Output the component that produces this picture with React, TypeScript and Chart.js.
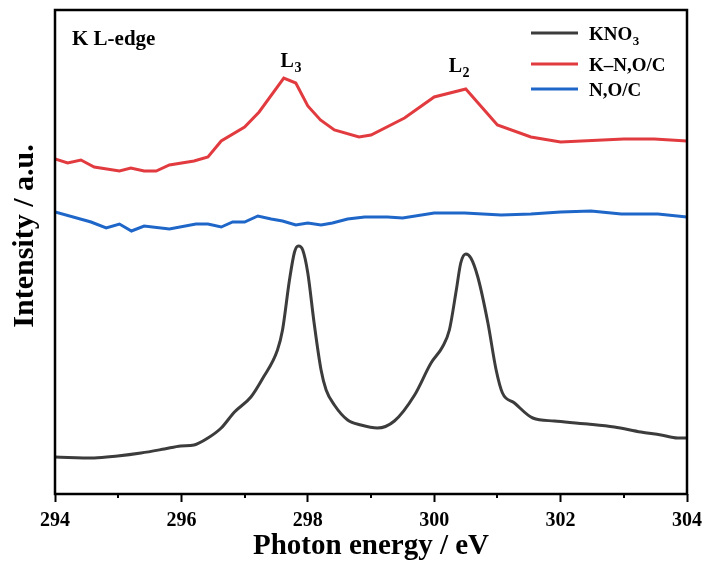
import React, { useEffect, useRef } from "react";
import { Chart, registerables } from "chart.js";

Chart.register(...registerables);

// ---- Data (photon energy in eV, intensity in arbitrary units, offset per series) ----
const kno3Energy = [
  294.0, 294.62, 294.99, 295.36, 295.73, 295.99, 296.2, 296.42, 296.63, 296.84,
  297.1, 297.29, 297.52, 297.6, 297.71, 297.79, 297.85, 297.92, 298.0, 298.1,
  298.21, 298.29, 298.42, 298.63, 298.84, 299.1, 299.37, 299.69, 299.95, 300.13,
  300.24, 300.35, 300.42, 300.5, 300.58, 300.69, 300.85, 300.98, 301.08, 301.27,
  301.56, 301.9, 302.43, 302.85, 303.27, 303.59, 303.85, 304.0,
];
const kno3Intensity = [
  0.37, 0.36, 0.38, 0.41, 0.45, 0.48, 0.49, 0.56, 0.66, 0.82,
  0.97, 1.16, 1.44, 1.64, 2.14, 2.42, 2.48, 2.44, 2.21, 1.71,
  1.24, 1.04, 0.89, 0.74, 0.69, 0.66, 0.73, 0.99, 1.31, 1.47,
  1.64, 2.04, 2.31, 2.4, 2.36, 2.17, 1.71, 1.24, 1.01, 0.91,
  0.76, 0.73, 0.7, 0.67, 0.62, 0.59, 0.56, 0.56,
];

const knocEnergy = [
  294.0, 294.2, 294.41, 294.62, 295.02, 295.2, 295.41, 295.6, 295.81, 296.2,
  296.42, 296.63, 297.0, 297.23, 297.62, 297.81, 298.0, 298.2, 298.42, 298.81,
  299.0, 299.53, 300.0, 300.5, 301.0, 301.53, 302.0, 303.0, 303.48, 304.0,
];
const knocIntensity = [
  3.35, 3.31, 3.34, 3.27, 3.23, 3.26, 3.23, 3.23, 3.29, 3.33,
  3.37, 3.53, 3.67, 3.82, 4.16, 4.11, 3.88, 3.74, 3.64, 3.57,
  3.59, 3.76, 3.97, 4.05, 3.69, 3.57, 3.52, 3.55, 3.55, 3.53,
];

const nocEnergy = [
  294.0, 294.57, 294.81, 295.02, 295.21, 295.41, 295.81, 296.23, 296.42, 296.63,
  296.81, 297.0, 297.21, 297.42, 297.6, 297.81, 298.0, 298.21, 298.39, 298.63,
  298.9, 299.26, 299.5, 300.0, 300.48, 301.06, 301.53, 302.0, 302.48, 302.96,
  303.54, 304.0,
];
const nocIntensity = [
  2.82, 2.72, 2.66, 2.7, 2.63, 2.68, 2.65, 2.7, 2.7, 2.67,
  2.72, 2.72, 2.78, 2.75, 2.73, 2.69, 2.71, 2.69, 2.71, 2.75,
  2.77, 2.77, 2.76, 2.81, 2.81, 2.79, 2.8, 2.82, 2.83, 2.8,
  2.8, 2.77,
];

const xMajorTicks = [294, 296, 298, 300, 302, 304];
const xMinorTicks = [295, 297, 299, 301, 303];
const seriesNames = ["KNO", "K–N,O/C", "N,O/C"];
const seriesSubscripts = ["3", "", ""];
const seriesColors = ["#3c3c3c", "#e23b3f", "#1f66c9"];

const peakNames = ["L", "L"];
const peakSubscripts = ["3", "2"];
const peakEnergy = [297.73, 300.39];
const peakLevel = [4.27, 4.22];

const panelLabel = "K L-edge";
const xTitle = "Photon energy / eV";
const yTitle = "Intensity / a.u.";

const FONT = "'Liberation Serif', 'Times New Roman', serif";

function toPoints(xs: number[], ys: number[]) {
  return xs.map((x, i) => ({ x, y: ys[i] }));
}

function drawSubText(
  ctx: CanvasRenderingContext2D,
  main: string,
  sub: string,
  x: number,
  y: number,
  size: number,
  align: "left" | "center"
) {
  ctx.font = `bold ${size}px ${FONT}`;
  const mw = ctx.measureText(main).width;
  const subSize = Math.round(size * 0.68);
  ctx.font = `bold ${subSize}px ${FONT}`;
  const sw = sub ? ctx.measureText(sub).width : 0;
  const total = mw + sw;
  const startX = align === "center" ? x - total / 2 : x;
  ctx.textAlign = "left";
  ctx.textBaseline = "alphabetic";
  ctx.font = `bold ${size}px ${FONT}`;
  ctx.fillText(main, startX, y);
  if (sub) {
    ctx.font = `bold ${subSize}px ${FONT}`;
    ctx.fillText(sub, startX + mw + 0.5, y + size * 0.25);
  }
}

const decorPlugin = {
  id: "decor",
  afterDraw(chart: any) {
    const { ctx, chartArea: a, scales } = chart;
    const x = scales.x;
    const y = scales.y;
    ctx.save();
    ctx.strokeStyle = "#000";
    // minor ticks
    ctx.lineWidth = 2;
    xMinorTicks.forEach((v) => {
      const px = Math.round(x.getPixelForValue(v));
      ctx.beginPath();
      ctx.moveTo(px, a.bottom);
      ctx.lineTo(px, a.bottom + 4);
      ctx.stroke();
    });
    // frame
    ctx.lineWidth = 2.5;
    ctx.strokeRect(a.left, a.top, a.right - a.left, a.bottom - a.top);

    ctx.fillStyle = "#000";
    // y-axis title
    ctx.save();
    ctx.translate(25, 236);
    ctx.rotate(-Math.PI / 2);
    ctx.font = `bold 30px ${FONT}`;
    ctx.textAlign = "center";
    ctx.textBaseline = "middle";
    ctx.fillText(yTitle, 0, 0);
    ctx.restore();

    // panel label
    ctx.font = `bold 21px ${FONT}`;
    ctx.textAlign = "left";
    ctx.textBaseline = "alphabetic";
    ctx.fillText(panelLabel, a.left + 17, 45);

    // peak labels
    peakNames.forEach((n, i) => {
      drawSubText(
        ctx,
        n,
        peakSubscripts[i],
        x.getPixelForValue(peakEnergy[i]),
        y.getPixelForValue(peakLevel[i]),
        20,
        "center"
      );
    });

    // legend
    const rows = [33, 64, 89];
    chart.data.datasets.forEach((ds: any, i: number) => {
      const ry = rows[i];
      ctx.strokeStyle = ds.borderColor;
      ctx.lineWidth = 3;
      ctx.beginPath();
      ctx.moveTo(531, ry);
      ctx.lineTo(578, ry);
      ctx.stroke();
      ctx.fillStyle = "#000";
      drawSubText(ctx, seriesNames[i], seriesSubscripts[i], 589, ry + 7, 19, "left");
    });
    ctx.restore();
  },
};

export default function App() {
  const ref = useRef<HTMLCanvasElement | null>(null);

  useEffect(() => {
    if (!ref.current) return;
    const chart = new Chart(ref.current, {
      type: "line",
      data: {
        datasets: [
          {
            label: seriesNames[0] + seriesSubscripts[0],
            data: toPoints(kno3Energy, kno3Intensity),
            borderColor: seriesColors[0],
            borderWidth: 3,
            pointRadius: 0,
            cubicInterpolationMode: "monotone",
            fill: false,
          },
          {
            label: seriesNames[1],
            data: toPoints(knocEnergy, knocIntensity),
            borderColor: seriesColors[1],
            borderWidth: 3,
            pointRadius: 0,
            tension: 0,
            fill: false,
          },
          {
            label: seriesNames[2],
            data: toPoints(nocEnergy, nocIntensity),
            borderColor: seriesColors[2],
            borderWidth: 3,
            pointRadius: 0,
            tension: 0,
            fill: false,
          },
        ],
      },
      options: {
        animation: false,
        responsive: false,
        layout: { padding: { top: 10, right: 17, left: 0, bottom: 0 } },
        plugins: {
          legend: { display: false },
          tooltip: { enabled: false },
        },
        scales: {
          x: {
            type: "linear",
            min: 294,
            max: 304,
            afterBuildTicks: (s: any) => {
              s.ticks = xMajorTicks.map((v) => ({ value: v }));
            },
            afterFit: (s: any) => {
              s.height = 70;
              s.paddingLeft = 0;
              s.paddingRight = 0;
            },
            ticks: {
              color: "#000",
              font: { family: FONT, size: 20, weight: "bold" },
              padding: 7,
              maxRotation: 0,
              autoSkip: false,
            },
            grid: {
              display: true,
              drawOnChartArea: false,
              drawTicks: true,
              tickLength: 8,
              tickWidth: 2,
              tickColor: "#000",
            },
            border: { display: false },
            title: {
              display: true,
              text: xTitle,
              color: "#000",
              font: { family: FONT, size: 29, weight: "bold" },
              padding: { top: 0, bottom: 0 },
            },
          },
          y: {
            type: "linear",
            min: 0,
            max: 4.84,
            afterFit: (s: any) => {
              s.width = 55;
              s.paddingTop = 0;
              s.paddingBottom = 0;
            },
            ticks: { display: false },
            grid: { display: false },
            border: { display: false },
            title: { display: false },
          },
        },
      },
      plugins: [decorPlugin],
    } as any);
    return () => chart.destroy();
  }, []);

  return (
    <div style={{ position: "absolute", left: 0, top: 0, width: 704, height: 564, background: "#fff" }}>
      <canvas ref={ref} width={704} height={564} style={{ display: "block" }} />
    </div>
  );
}
